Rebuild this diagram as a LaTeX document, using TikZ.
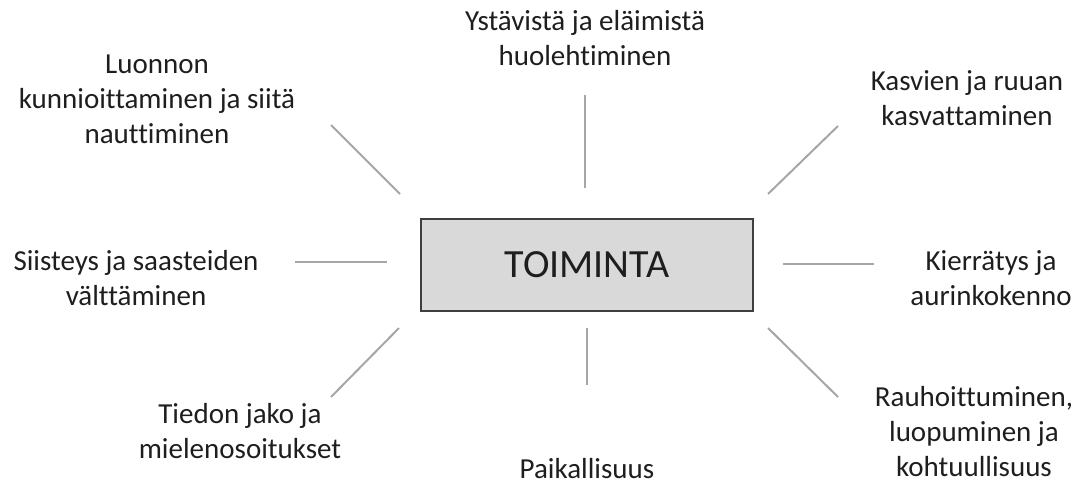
\documentclass[tikz,border=0pt]{standalone}
\usepackage{fontspec}
\setmainfont{Carlito}[Ligatures=NoCommon]
\definecolor{txt}{HTML}{1E1E1E}
\definecolor{conn}{HTML}{A6A6A6}
\definecolor{boxfill}{HTML}{D9D9D9}
\definecolor{boxline}{HTML}{3F3F3F}
\begin{document}
\begin{tikzpicture}[x=1pt,y=-1pt,
  label/.style={inner sep=0pt, align=center, text=txt, font=\fontsize{29}{35}\selectfont, anchor=base},
  centerbox/.style={draw=boxline, line width=2pt, fill=boxfill, minimum width=332pt, minimum height=92pt, inner sep=0pt, text=txt, font=\fontsize{40}{46}\selectfont},
  conn/.style={draw=conn, line width=2pt}]
\useasboundingbox (0,0) rectangle (1079,484);
\node[centerbox] (main) at (587,265) {TOIMINTA};

\node[label] (top) at (585,66) {Ystävistä ja eläimistä\\huolehtiminen};
\node[label] (tl) at (157,143) {Luonnon\\kunnioittaminen ja siitä\\nauttiminen};
\node[label] (tr) at (967,126) {Kasvien ja ruuan\\kasvattaminen};
\node[label] (l) at (136,305) {Siisteys ja saasteiden\\välttäminen};
\node[label] (r) at (991,305) {Kierrätys ja\\aurinkokenno};
\node[label] (bl) at (240,458) {Tiedon jako ja\\mielenosoitukset};
\node[label] (b) at (587,478) {Paikallisuus};
\node[label] (br) at (974,476) {Rauhoittuminen,\\luopuminen ja\\kohtuullisuus};

\coordinate (t1) at (585,95);  \coordinate (t2) at (585,188);
\coordinate (tl1) at (331,125); \coordinate (tl2) at (400,194);
\coordinate (tr1) at (838,126); \coordinate (tr2) at (768,194);
\coordinate (l1) at (295,262); \coordinate (l2) at (387,262);
\coordinate (r1) at (783,264); \coordinate (r2) at (874,264);
\coordinate (bl1) at (399,328); \coordinate (bl2) at (331,397);
\coordinate (br1) at (768,328); \coordinate (br2) at (838,397);
\coordinate (b1) at (587,328); \coordinate (b2) at (587,385);

\draw[conn] (t1) -- (t2);
\draw[conn] (tl1) -- (tl2);
\draw[conn] (tr1) -- (tr2);
\draw[conn] (l1) -- (l2);
\draw[conn] (r1) -- (r2);
\draw[conn] (bl1) -- (bl2);
\draw[conn] (br1) -- (br2);
\draw[conn] (b1) -- (b2);
\end{tikzpicture}
\end{document}
